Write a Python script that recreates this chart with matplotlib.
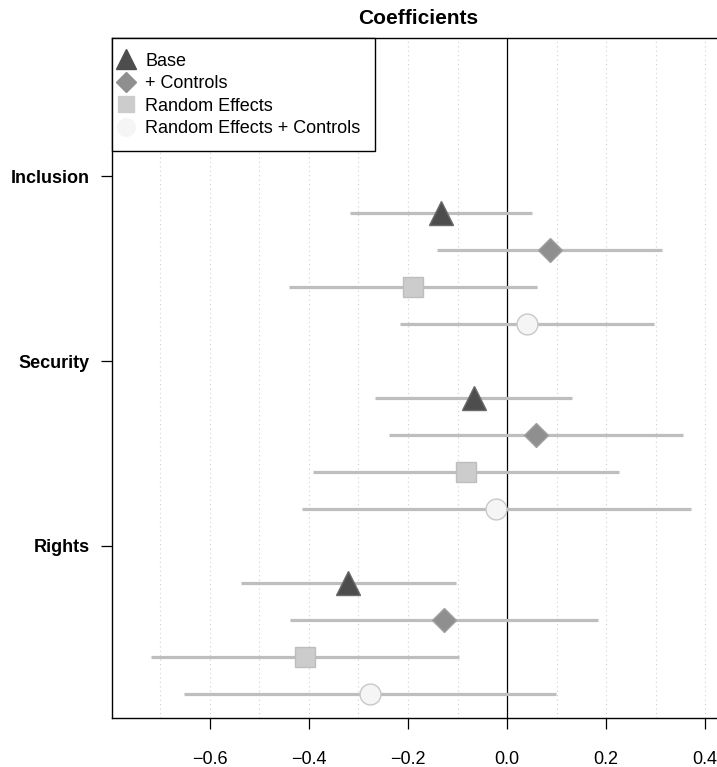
import numpy as np
import matplotlib.pyplot as plt
from matplotlib.lines import Line2D

# data
groups = ["Inclusion", "Security", "Rights"]
models = ["Base", "+ Controls", "Random Effects", "Random Effects + Controls"]

est_inclusion = [-0.133, 0.086, -0.190, 0.040]
lo_inclusion = [-0.318, -0.141, -0.440, -0.216]
hi_inclusion = [0.051, 0.313, 0.061, 0.297]

est_security = [-0.067, 0.058, -0.083, -0.023]
lo_security = [-0.266, -0.238, -0.391, -0.415]
hi_security = [0.132, 0.356, 0.226, 0.371]

est_rights = [-0.321, -0.127, -0.408, -0.276]
lo_rights = [-0.537, -0.439, -0.718, -0.652]
hi_rights = [-0.103, 0.183, -0.097, 0.099]

x_ticks = [-0.6, -0.4, -0.2, 0.0, 0.2, 0.4]

# marker styles per model
markers = ["^", "D", "s", "o"]
face = ["#4d4d4d", "#8f8f8f", "#cccccc", "#f5f5f5"]
edge = ["#6a6a6a", "#a0a0a0", "#bdbdbd", "#c8c8c8"]
msize = [17, 12, 14, 15]

plt.rcParams["font.family"] = ["Liberation Sans", "DejaVu Sans"]

fig = plt.figure(figsize=(7.17, 7.67), dpi=100)
ax = fig.add_axes([0.156, 0.064, 0.844, 0.886])

# dotted grid every 0.1
for g in np.arange(-0.7, 0.45, 0.1):
    if abs(g) > 1e-9:
        ax.axvline(g, color="#cfcfcf", lw=0.8, ls=(0, (1, 3)), zorder=0)
ax.axvline(0, color="black", lw=0.9, zorder=1)

est = [est_inclusion, est_security, est_rights]
lo = [lo_inclusion, lo_security, lo_rights]
hi = [hi_inclusion, hi_security, hi_rights]

for gi in range(len(groups)):
    for mi in range(len(models)):
        y = gi * 5 + mi + 1
        ax.plot([lo[gi][mi], hi[gi][mi]], [y, y], color="#bebebe", lw=2.3,
                solid_capstyle="butt", zorder=2)
        ax.plot(est[gi][mi], y, marker=markers[mi], ms=msize[mi],
                mfc=face[mi], mec=edge[mi], mew=1, zorder=3)

ax.set_xlim(-0.798, 0.424)
ax.set_ylim(14.65, -3.73)
ax.set_yticks([0, 5, 10])
ax.set_yticklabels(groups, fontweight="bold", fontsize=13)
ax.set_xticks(x_ticks)
ax.set_xticklabels(["\u22120.6", "\u22120.4", "\u22120.2", "0.0", "0.2", "0.4"], fontsize=13)
ax.tick_params(axis="both", length=8, width=0.9)
ax.tick_params(axis="x", pad=16)
ax.tick_params(axis="y", pad=8)

ax.spines["right"].set_visible(False)
for s in ["left", "bottom", "top"]:
    ax.spines[s].set_linewidth(1)

ax.set_title("Coefficients", fontweight="bold", fontsize=15, pad=10, x=0.507)

handles = [Line2D([], [], ls="none", marker=markers[i], ms=msize[i] * 0.85,
                  mfc=face[i], mec=face[i]) for i in range(4)]
leg = ax.legend(handles, models, loc="upper left", bbox_to_anchor=(0, 1.0),
                fontsize=13, frameon=True, fancybox=False, borderaxespad=0,
                handlelength=0, handletextpad=1.05, labelspacing=0.3,
                borderpad=0.8, framealpha=1)
leg.get_frame().set_edgecolor("black")
leg.get_frame().set_linewidth(1)

fig.savefig("out.png", dpi=100)
